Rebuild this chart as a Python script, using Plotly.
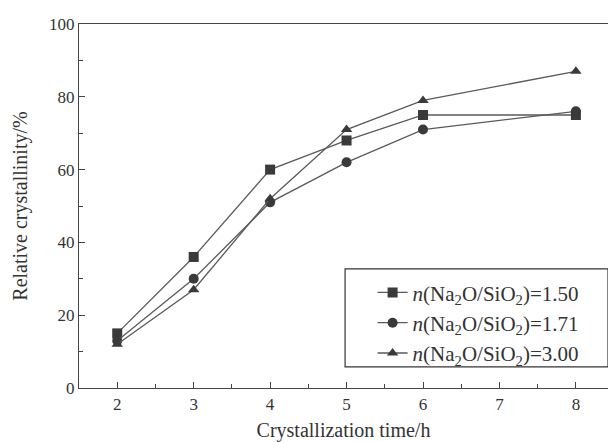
import plotly.graph_objects as go

time_h = [2, 3, 4, 5, 6, 8]
s150 = [15, 36, 60, 68, 75, 75]
s171 = [13, 30, 51, 62, 71, 76]
s300 = [12, 27, 52, 71, 79, 87]
names = ["<i>n</i>(Na<sub>2</sub>O/SiO<sub>2</sub>)=1.50",
         "<i>n</i>(Na<sub>2</sub>O/SiO<sub>2</sub>)=1.71",
         "<i>n</i>(Na<sub>2</sub>O/SiO<sub>2</sub>)=3.00"]
symbols = ["square", "circle", "triangle-up"]

col = "#3a3a3a"
fig = go.Figure()
for ys, nm, sym in zip([s150, s171, s300], names, symbols):
    fig.add_trace(go.Scatter(x=time_h, y=ys, name=nm, mode="lines+markers",
                             line=dict(color="#5a5a5a", width=1.3),
                             marker=dict(symbol=sym, size=10, color=col)))

serif = "Liberation Serif, Times New Roman, serif"
font = dict(family=serif, size=16, color="#333333")
fig.add_shape(type="rect", xref="paper", yref="paper", x0=0.503, x1=1.0, y0=0.058, y1=0.327,
              line=dict(color="#333333", width=1.2), fillcolor="white", layer="below")
fig.update_layout(
    width=608, height=442,
    margin=dict(l=79, r=0, t=24, b=54),
    paper_bgcolor="white", plot_bgcolor="white",
    font=font,
    showlegend=True,
    legend=dict(x=0.555, y=0.318, xanchor="left", yanchor="top",
                bgcolor="rgba(0,0,0,0)", borderwidth=0,
                font=dict(family=serif, size=21, color="#333333"),
                itemwidth=30),
    xaxis=dict(range=[1.5, 8.42], tickvals=[2, 3, 4, 5, 6, 7, 8],
               showline=True, linecolor="#444444", linewidth=1.2, mirror=True,
               ticks="inside", ticklen=6, tickcolor="#444444",
               tickfont=dict(size=17),
               minor=dict(tickvals=[1.5, 2.5, 3.5, 4.5, 5.5, 6.5, 7.5], ticks="inside", ticklen=4, tickcolor="#444444"),
               showgrid=False, zeroline=False,
               title=dict(text="Crystallization time/h", standoff=14, font=dict(size=20))),
    yaxis=dict(range=[0, 100], tickvals=[0, 20, 40, 60, 80, 100],
               showline=True, linecolor="#444444", linewidth=1.2, mirror=False,
               ticks="inside", ticklen=6, tickcolor="#444444",
               tickfont=dict(size=17),
               minor=dict(tickvals=[10, 30, 50, 70, 90], ticks="inside", ticklen=4, tickcolor="#444444"),
               showgrid=False, zeroline=False,
               title=dict(text="Relative crystallinity/%", standoff=16, font=dict(size=20))),
)
fig.write_html("out.html")
